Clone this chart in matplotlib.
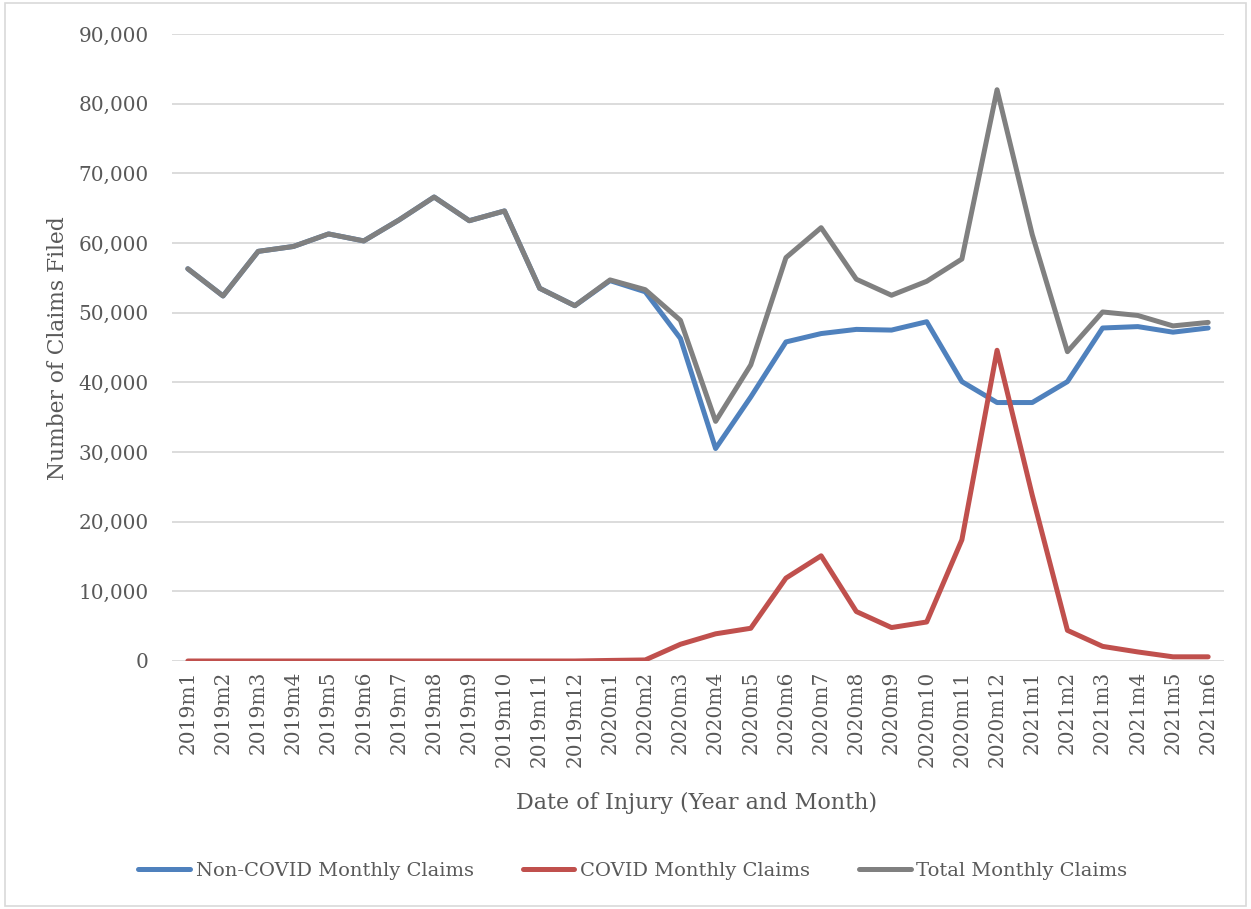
import matplotlib
matplotlib.use("Agg")
import matplotlib.pyplot as plt
from matplotlib.patches import Rectangle
from matplotlib.ticker import FuncFormatter

months = ["2019m1", "2019m2", "2019m3", "2019m4", "2019m5", "2019m6", "2019m7", "2019m8",
          "2019m9", "2019m10", "2019m11", "2019m12", "2020m1", "2020m2", "2020m3", "2020m4",
          "2020m5", "2020m6", "2020m7", "2020m8", "2020m9", "2020m10", "2020m11", "2020m12",
          "2021m1", "2021m2", "2021m3", "2021m4", "2021m5", "2021m6"]

non_covid = [56300, 52400, 58800, 59500, 61300, 60300, 63300, 66600, 63200, 64600,
             53500, 51000, 54600, 53000, 46300, 30500, 37900, 45800, 47000, 47600,
             47500, 48700, 40100, 37100, 37100, 40100, 47800, 48000, 47200, 47800]

covid = [0, 0, 0, 0, 0, 0, 0, 0, 0, 0,
         0, 0, 80, 150, 2400, 3900, 4700, 11900, 15100, 7100,
         4800, 5600, 17400, 44600, 23800, 4400, 2100, 1300, 600, 600]

total = [56300, 52400, 58800, 59500, 61300, 60300, 63300, 66600, 63200, 64600,
         53500, 51000, 54700, 53300, 48900, 34400, 42500, 57900, 62200, 54800,
         52500, 54500, 57700, 82000, 61200, 44400, 50100, 49600, 48100, 48600]

text_color = "#595959"
font = ["DejaVu Serif"]

fig = plt.figure(figsize=(12.51, 9.09), dpi=100)
fig.patches.append(Rectangle((5 / 1251, 3 / 909), 1241 / 1251, 903 / 909,
                             transform=fig.transFigure, fill=False,
                             edgecolor="#D9D9D9", linewidth=1.2))

ax = fig.add_axes([172 / 1251, 1 - 661 / 909, (1224 - 172) / 1251, (661 - 34) / 909])
x = list(range(len(months)))
lw = 3.6
l1, = ax.plot(x, non_covid, color="#4F81BD", lw=lw, solid_capstyle="round",
              solid_joinstyle="round", label="Non-COVID Monthly Claims", zorder=3)
l2, = ax.plot(x, covid, color="#C0504D", lw=lw, solid_capstyle="round",
              solid_joinstyle="round", label="COVID Monthly Claims", zorder=4)
l3, = ax.plot(x, total, color="#808080", lw=lw, solid_capstyle="round",
              solid_joinstyle="round", label="Total Monthly Claims", zorder=5)

ax.set_xlim(-0.45, len(months) - 0.55)
ax.set_ylim(0, 90000)
ax.set_yticks(range(0, 90001, 10000))
ax.yaxis.set_major_formatter(FuncFormatter(lambda v, p: f"{int(v):,}"))
ax.set_xticks(x)
ax.set_xticklabels(months, rotation=90, fontsize=14.5, family=font, color=text_color)
for lab in ax.get_yticklabels():
    lab.set_fontsize(14.4)
    lab.set_family(font)
    lab.set_color(text_color)
ax.tick_params(axis="both", length=0)
ax.tick_params(axis="y", pad=17)
ax.tick_params(axis="x", pad=7)
ax.grid(axis="y", color="#D9D9D9", linewidth=1.3)
ax.set_axisbelow(True)
for s in ax.spines.values():
    s.set_visible(False)

fig.text(58 / 1251, 1 - 348 / 909, "Number of Claims Filed", rotation=90,
         ha="center", va="center", fontsize=15.7, family=font, color=text_color)
fig.text(697 / 1251, 1 - 803 / 909, "Date of Injury (Year and Month)",
         ha="center", va="center", fontsize=16, family=font, color=text_color)

leg = fig.legend(handles=[l1, l2, l3], loc="center", bbox_to_anchor=(633 / 1251, 1 - 871 / 909),
                 ncol=3, frameon=False, handlelength=2.66, handletextpad=0.3,
                 columnspacing=2.5, prop={"family": font, "size": 14.0})
for t in leg.get_texts():
    t.set_color(text_color)

fig.savefig("out.png", dpi=100)
